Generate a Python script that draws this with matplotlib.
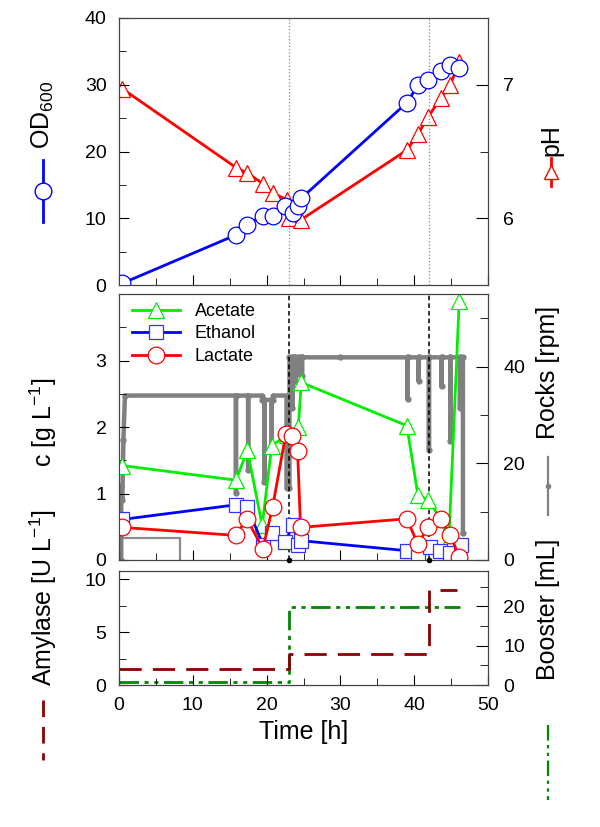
import matplotlib
matplotlib.use('Agg')
import matplotlib.pyplot as plt
from matplotlib.lines import Line2D
from matplotlib.ticker import MultipleLocator

plt.rcParams['font.family'] = ['Liberation Sans', 'DejaVu Sans']
plt.rcParams['mathtext.fontset'] = 'custom'
plt.rcParams['mathtext.rm'] = 'Liberation Sans'
plt.rcParams['mathtext.it'] = 'Liberation Sans'

# ---- data ----
od_t = [0.45, 15.85, 17.3, 19.5, 20.8, 22.5, 23.6, 24.3, 24.7, 39.0, 40.5, 41.9, 43.6, 44.9, 46.1]
od = [0.25, 7.5, 9.0, 10.4, 10.4, 11.9, 10.8, 11.9, 13.0, 27.3, 29.9, 30.7, 32.0, 33.0, 32.5]

ph_t = [0.45, 15.85, 17.3, 19.5, 20.8, 22.7, 23.1, 24.7, 39.0, 40.5, 41.9, 43.6, 44.9, 46.1]
ph = [6.97, 6.38, 6.34, 6.26, 6.19, 6.14, 6.0, 5.99, 6.51, 6.63, 6.76, 6.9, 7.0, 7.17]

ace_t = [0.45, 15.85, 17.4, 19.4, 20.7, 22.8, 24.3, 24.7, 39.0, 40.5, 41.9, 43.6, 44.7, 46.1]
ace = [1.42, 1.2, 1.65, 0.52, 1.72, 1.88, 2.0, 2.67, 2.02, 0.98, 0.9, 0.62, 0.3, 3.9]

eth_t = [0.45, 15.85, 17.4, 19.5, 20.7, 22.5, 23.6, 24.3, 24.7, 39.0, 40.5, 42.1, 43.5, 44.9, 46.3]
eth = [0.61, 0.83, 0.79, 0.23, 0.41, 0.27, 0.53, 0.23, 0.29, 0.14, 0.05, 0.2, 0.13, 0.1, 0.22]

lac_t = [0.45, 15.85, 17.3, 19.5, 20.8, 22.6, 23.4, 24.2, 24.6, 39.0, 40.5, 41.9, 43.6, 44.9, 46.1]
lac = [0.49, 0.37, 0.62, 0.17, 0.79, 1.89, 1.86, 1.64, 0.49, 0.62, 0.24, 0.5, 0.62, 0.37, 0.05]

rocks_t = [0.0, 0.3, 0.3, 0.45, 0.6, 0.8,
           15.85, 15.85, 15.85, 17.5, 17.5, 17.5,
           19.4, 19.4, 19.7, 19.7, 19.7, 20.7, 20.7, 20.7, 20.9, 20.9,
           22.7, 22.7, 23.1, 23.1,
           23.5, 23.5, 23.5, 23.9, 23.9, 23.9, 24.4, 24.4, 24.4, 24.8, 24.8, 24.8,
           30.0, 39.1, 39.1, 39.1, 40.6, 40.6, 40.6, 42.0, 42.0, 42.0,
           43.7, 43.7, 43.7, 44.9, 44.9, 44.9, 46.2, 46.2, 46.2, 46.6, 46.6]
rocks = [0, 0, 15.2, 12.4, 24.8, 34,
         34, 13.8, 34, 34, 18.6, 34,
         34, 33.1, 33.1, 16.2, 33.1, 33.1, 23.5, 33.1, 33.1, 34,
         34, 14.9, 14.9, 41.9,
         41.9, 31.5, 41.9, 41.9, 37.0, 41.9, 41.9, 38.5, 41.9, 41.9, 38.0, 41.9,
         41.9, 41.9, 33.3, 41.9, 41.9, 37.1, 41.9, 41.9, 22.8, 41.9,
         41.9, 35.9, 41.9, 41.9, 24.7, 41.9, 41.9, 31.4, 41.9, 41.9, 5.5]
rocks0_t = [0.0, 8.3, 8.3]
rocks0 = [4.5, 4.5, 0.0]

amyl_t = [0.0, 23.1, 42.0, 45.8]
amyl = [1.5, 2.9, 9.0, 9.0]
boost_t = [0.0, 23.1, 46.2]
boost = [0.8, 19.8, 19.8]

event_t = [23.1, 42.0]

# ---- figure ----
W, H = 600, 827
fig = plt.figure(figsize=(6, 8.27), dpi=100)

def frac(x, y):
    return x / W, 1 - y / H

def box(top, bottom):
    return [119 / W, 1 - bottom / H, (488 - 119) / W, (bottom - top) / H]

spine_c = '#444444'
tick_fs = 14
lab_fs = 18

def style(ax, xlab=False):
    for s in ax.spines.values():
        s.set_color(spine_c)
    ax.tick_params(direction='in', which='both', labelsize=tick_fs, colors='black',
                   top=False, right=False, labelbottom=xlab)
    ax.tick_params(which='major', length=7)
    ax.tick_params(which='minor', length=5)
    ax.tick_params(axis='y', pad=9)
    ax.tick_params(axis='x', pad=9)
    ax.set_xlim(0, 50)
    ax.xaxis.set_major_locator(MultipleLocator(10))
    ax.xaxis.set_minor_locator(MultipleLocator(5))

def style_r(ax):
    ax.tick_params(direction='in', which='both', labelsize=tick_fs, left=False,
                   right=True, bottom=False, top=False, labelbottom=False)
    ax.tick_params(which='major', length=9)
    ax.tick_params(which='minor', length=6)
    ax.tick_params(axis='y', pad=11)

mk = dict(markerfacecolor='white', mew=0.9, lw=2)

# top panel
ax1 = fig.add_axes(box(18, 285))
style(ax1)
ax1.set_ylim(0, 40)
ax1.yaxis.set_major_locator(MultipleLocator(10))
ax1.yaxis.set_minor_locator(MultipleLocator(5))
ax1b = ax1.twinx()
style_r(ax1b)
ax1b.set_ylim(5.5, 7.5)
ax1b.yaxis.set_major_locator(MultipleLocator(1))
ax1b.yaxis.set_minor_locator(MultipleLocator(0.5))
ax1b.plot(ph_t, ph, color='#ff0000', marker='^', ms=11, markeredgecolor='#ff0000', **mk)
ax1.set_zorder(ax1b.get_zorder() + 1)
ax1.patch.set_visible(False)
ax1.plot(od_t, od, color='#0000ff', marker='o', ms=12, markeredgecolor='#0000ff', **mk)
for t in event_t:
    ax1.axvline(t, color='#888888', ls=':', lw=0.9, zorder=0)

# middle panel
ax2 = fig.add_axes(box(294, 560))
style(ax2)
ax2.set_ylim(0, 4)
ax2.set_yticks([0, 1, 2, 3])
ax2.yaxis.set_minor_locator(MultipleLocator(0.5))
ax2b = ax2.twinx()
style_r(ax2b)
ax2b.set_ylim(0, 55)
ax2b.set_yticks([0, 20, 40])
ax2b.yaxis.set_minor_locator(MultipleLocator(10))
ax2b.plot(rocks0_t, rocks0, color='#8c8c8c', lw=1.6)
ax2b.plot(rocks_t, rocks, color='#808080', lw=3.2, marker='o', ms=3.5)
ax2.set_zorder(ax2b.get_zorder() + 1)
ax2.patch.set_visible(False)
for t in event_t:
    ax2.axvline(t, color='black', ls=(0, (3, 2)), lw=1.1, zorder=1)
ax2.plot(event_t, [0, 0], 'o', color='black', ms=3, clip_on=False, zorder=5)
l_ace, = ax2.plot(ace_t, ace, color='#00ee00', marker='^', ms=11, markeredgecolor='#00ee00', **mk)
l_eth, = ax2.plot(eth_t, eth, color='#0000ff', marker='s', ms=10, markeredgecolor='#3333ff', **mk)
l_lac, = ax2.plot(lac_t, lac, color='#ff0000', marker='o', ms=12, markeredgecolor='#ff0000', **mk)
ax2.legend([l_ace, l_eth, l_lac], ['Acetate', 'Ethanol', 'Lactate'], loc='upper left',
           frameon=False, fontsize=13, handlelength=2.7, labelspacing=0.3,
           borderaxespad=0.1, bbox_to_anchor=(0.01, 1.0))

# bottom panel
ax3 = fig.add_axes(box(571, 685))
style(ax3, xlab=True)
ax3.set_ylim(0, 10.8)
ax3.yaxis.set_major_locator(MultipleLocator(5))
ax3.yaxis.set_minor_locator(MultipleLocator(2.5))
ax3b = ax3.twinx()
style_r(ax3b)
ax3b.set_ylim(0, 29)
ax3b.yaxis.set_major_locator(MultipleLocator(10))
ax3b.yaxis.set_minor_locator(MultipleLocator(5))
ax3b.plot(boost_t, boost, color='#008800', lw=2, drawstyle='steps-post',
          dashes=(7, 2, 1.5, 2, 1.5, 2))
ax3.plot(amyl_t, amyl, color='#8b0000', lw=2, drawstyle='steps-post', dashes=(8, 4))
ax3.set_zorder(ax3b.get_zorder() + 1)
ax3.patch.set_visible(False)
ax3.set_xlabel('Time [h]', fontsize=lab_fs, labelpad=4)

# side labels with their symbols
def side_label(x, y, s):
    fx, fy = frac(x, y)
    fig.text(fx, fy, s, rotation=90, ha='center', va='center', fontsize=lab_fs)

def side_symbol(x, y0, y1, color, ls='-', lw=2, marker=None, ms=10, mfc='white', dashes=None):
    xs = [x / W, x / W, x / W]
    ys = [1 - y0 / H, 1 - (y0 + y1) / 2 / H, 1 - y1 / H]
    ln = Line2D(xs, ys, transform=fig.transFigure, color=color, lw=lw, ls=ls,
                marker=marker, markevery=[1] if marker else None, ms=ms,
                markerfacecolor=mfc, markeredgecolor=color)
    if dashes:
        ln.set_dashes(dashes)
    fig.add_artist(ln)

side_label(43, 115, r'OD$_{\mathregular{600}}$')
side_symbol(43, 160, 222, '#0000ff', marker='o', ms=12)
side_label(43, 422, r'c [g L$^{\mathregular{-1}}$]')
side_label(43, 598, r'Amylase [U L$^{\mathregular{-1}}$]')
side_symbol(43, 700, 760, '#8b0000', dashes=(6, 3.5))

side_label(551, 140, 'pH')
side_symbol(551, 158, 186, '#ff0000', marker='^', ms=10)
side_label(548, 372, 'Rocks [rpm]')
side_symbol(548, 457, 515, '#808080', lw=1.6, marker='o', ms=3, mfc='#808080')
side_label(548, 609, 'Booster [mL]')
side_symbol(548, 725, 800, '#008800', lw=1.6, dashes=(7, 2, 1.5, 2, 1.5, 2))

fig.savefig('out.png', dpi=100)
